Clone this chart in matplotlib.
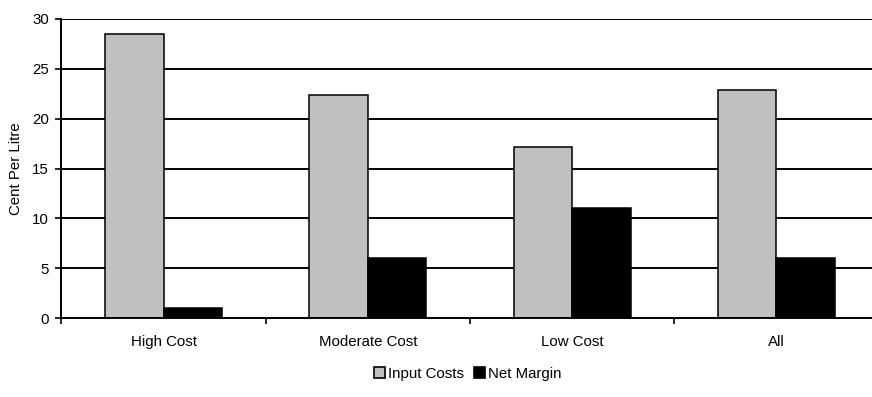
import numpy as np
import matplotlib.pyplot as plt
from matplotlib.patches import Patch

plt.rcParams['font.family'] = ['Liberation Sans', 'DejaVu Sans']

# cost groups and cent-per-litre values
categories = ["High Cost", "Moderate Cost", "Low Cost", "All"]
input_costs = [28.5, 22.4, 17.2, 22.9]
net_margin = [1.0, 6.0, 11.0, 6.0]
y_ticks = [0, 5, 10, 15, 20, 25, 30]

fs = 10.8
grey = "#C0C0C0"

fig = plt.figure(figsize=(8.72, 3.97), dpi=100)
# plot area runs a little past the right edge of the canvas
ax = fig.add_axes([61.4 / 872, 79 / 397, 817.2 / 872, 299 / 397])

x = np.arange(len(categories))
w = 0.286
ax.bar(x - w / 2, input_costs, w, color=grey, edgecolor="black", linewidth=1.1, zorder=3)
ax.bar(x + w / 2, net_margin, w, color="black", edgecolor="black", linewidth=1.1, zorder=3)

ax.set_xlim(-0.5, len(categories) - 0.5)
ax.set_ylim(0, 30)

# horizontal gridlines
for v in y_ticks[1:]:
    ax.axhline(v, color="black", linewidth=1.4, zorder=1)

for s in ["top", "right"]:
    ax.spines[s].set_visible(False)
ax.spines["left"].set_linewidth(1.4)
ax.spines["bottom"].set_linewidth(1.4)
ax.spines["bottom"].set_zorder(4)

ax.set_yticks(y_ticks)
ax.tick_params(axis="y", direction="out", length=4, width=1.2, pad=5, labelsize=fs)

# boundary ticks between groups, labels centred on groups
ax.set_xticks(np.arange(len(categories) + 1) - 0.5)
ax.set_xticklabels([])
ax.set_xticks(x, minor=True)
ax.set_xticklabels(categories, minor=True)
ax.tick_params(axis="x", which="major", direction="out", length=4, width=1.2)
ax.tick_params(axis="x", which="minor", length=0, pad=12, labelsize=fs)

ax.set_ylabel("Cent Per Litre", fontsize=fs)
ax.yaxis.set_label_coords(-0.047, 0.5)

handles = [Patch(facecolor=grey, edgecolor="black", linewidth=1.2),
           Patch(facecolor="black", edgecolor="black", linewidth=1.2)]
fig.legend(handles, ["Input Costs", "Net Margin"], loc="center",
           bbox_to_anchor=(468 / 872, 1 - 374 / 397), ncol=2, frameon=False,
           fontsize=fs, handlelength=0.75, handleheight=0.75,
           handletextpad=0.2, columnspacing=0.65)

plt.savefig("out.png", dpi=100)
